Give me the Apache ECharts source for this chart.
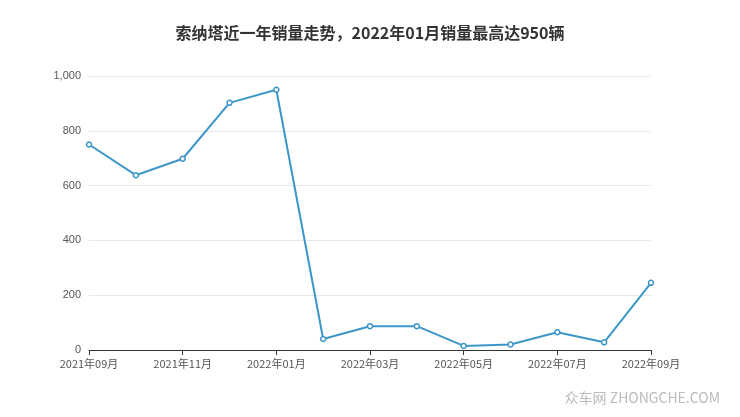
<!DOCTYPE html>
<html><head><meta charset="utf-8">
<script src="https://cdn.jsdelivr.net/npm/echarts@6/dist/echarts.min.js"></script>
<style>html,body{margin:0;padding:0;background:#fff}#c{width:740px;height:417px}</style>
</head><body><div id="c"></div>
<script>
const categories=['2021年09月','2021年10月','2021年11月','2021年12月','2022年01月','2022年02月','2022年03月','2022年04月','2022年05月','2022年06月','2022年07月','2022年08月','2022年09月'];
const sales=[750,638,698,902,950,40,87,87,15,20,65,28,245];
const chart=echarts.init(document.getElementById('c'));
chart.setOption({
  title:{text:'索纳塔近一年销量走势，2022年01月销量最高达950辆',left:'center',top:20,textStyle:{fontSize:16,fontWeight:'bold',color:'#333',fontFamily:'Noto Sans CJK SC'}},
  graphic:[{type:'text',right:20,bottom:12,style:{text:'众车网 ZHONGCHE.COM',fontSize:14,fill:'#bbb',fontFamily:'Noto Sans CJK SC'}}],
  grid:{left:89,right:89,top:76,bottom:67},
  xAxis:{type:'category',data:categories,boundaryGap:false,
    axisLine:{lineStyle:{color:'#333'}},axisTick:{show:true,interval:1},
    axisLabel:{interval:1,color:'#555',fontSize:11,fontFamily:'Noto Sans CJK SC'}},
  yAxis:{type:'value',min:0,max:1000,interval:200,
    axisLabel:{color:'#555',fontSize:11,formatter:v=>v.toLocaleString('en-US')},
    splitLine:{lineStyle:{color:'#e8e8e8'}},axisLine:{show:false},axisTick:{show:false}},
  series:[{type:'line',data:sales,symbol:'circle',symbolSize:5,
    itemStyle:{color:'#fff',borderColor:'#3d96c8',borderWidth:1.5},
    lineStyle:{color:'#3d96c8',width:2}}]
});
</script></body></html>
